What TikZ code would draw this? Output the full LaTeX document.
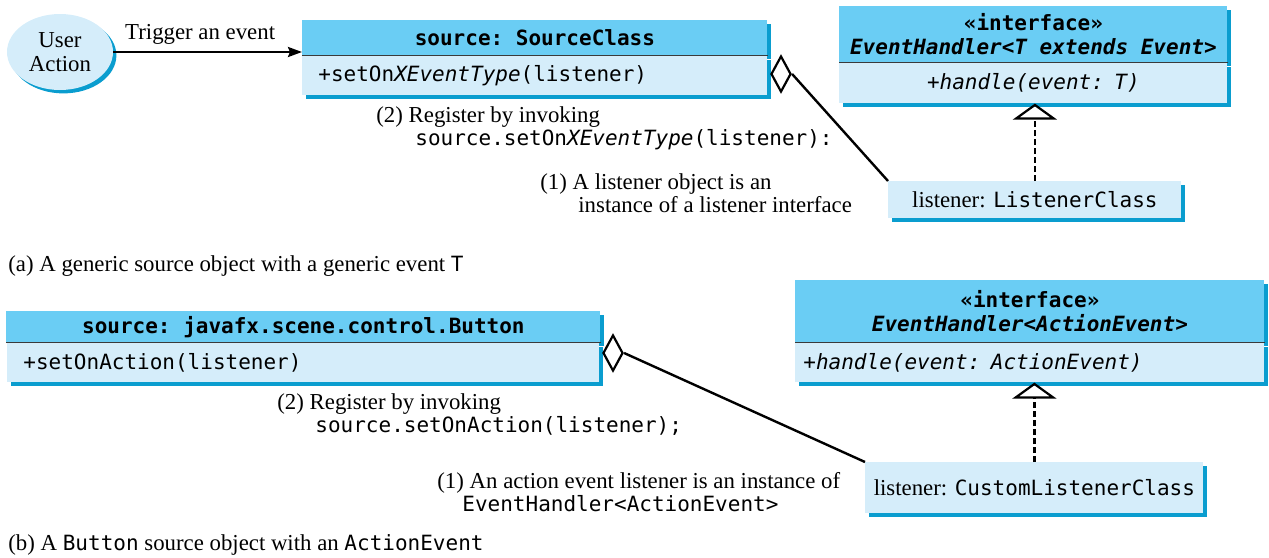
\documentclass[tikz,border=0pt]{standalone}
\usepackage{fontspec}
\setmainfont{Liberation Serif}
\setmonofont{DejaVu Sans Mono}
\usetikzlibrary{positioning, arrows.meta, shapes.geometric, shadows}
\definecolor{headblue}{HTML}{6ACDF4}
\definecolor{bodyblue}{HTML}{D5EDFA}
\definecolor{shadeblue}{HTML}{0A9DCF}
\definecolor{rulegray}{HTML}{3A3A3A}
\newcommand{\txtfont}{\fontsize{11.4}{11.5}\selectfont}
\newcommand{\cdfont}{\fontsize{10.5}{12}\selectfont\ttfamily}

\begin{document}
\begin{tikzpicture}[x=0.5pt, y=-0.5pt,
  boxshadow/.style={general shadow={fill=shadeblue, shadow xshift=1.7pt, shadow yshift=-1.7pt}},
  clshead/.style={fill=headblue, boxshadow, inner sep=0pt, minimum width=#1, align=center,
                  font=\cdfont\bfseries},
  clsbody/.style={fill=bodyblue, boxshadow, inner ysep=0pt, inner xsep=8pt, text width=#1,
                  font=\cdfont},
  lis/.style={fill=bodyblue, boxshadow, inner sep=0pt, font=\txtfont},
  agg/.style={draw, diamond, fill=white, line width=1.1pt, minimum width=10pt,
              minimum height=18pt, inner sep=0pt},
  divider/.style={rulegray, line width=0.6pt},
  arr/.style={-{Stealth[length=7pt, width=5pt, inset=1pt]}, line width=1.2pt},
  link/.style={line width=1.2pt},
  realize/.style={-{Triangle[open, length=8pt, width=22pt, line width=1.1pt]},
                  line width=1.2pt, dash pattern=on 3pt off 1.5pt},
  note/.style={anchor=base west, inner sep=0pt, font=\txtfont}]
  \useasboundingbox (0,0) rectangle (1269,557);

  % (a) generic source
  \node[ellipse, fill=bodyblue, boxshadow, minimum width=53pt, minimum height=38pt,
        inner sep=0pt, align=center, font=\fontsize{11.4}{12}\selectfont] (user) at (60,52) {User\\Action};
  \node[clshead=232.5pt, minimum height=17.5pt, anchor=north west] (srcAh) at (302,20)
    {source: SourceClass};
  \node[clsbody=216.5pt, minimum height=19.5pt, align=left, below=0pt of srcAh] (srcAb)
    {+setOn\textit{XEventType}(listener)};
  \draw[divider] (srcAh.south west) -- (srcAh.south east);
  \draw[arr] (user.east) -- node[above, pos=0.46, font=\txtfont] {Trigger an event} (user.east -| srcAh.west);

  \node[clshead=194pt, minimum height=28pt, anchor=north west] (ifAh) at (839,6)
    {«interface»\\\textit{EventHandler<T extends Event>}};
  \node[clsbody=178pt, minimum height=20pt, align=center, below=0pt of ifAh] (ifAb)
    {\textit{+handle(event: T)}};
  \draw[divider] (ifAh.south west) -- (ifAh.south east);

  \node[lis, minimum width=146.5pt, minimum height=18.5pt, anchor=north west] (lisA) at (888,181)
    {listener: \texttt{\fontsize{10.5}{12}\selectfont ListenerClass}};
  \node[agg] (aggA) at (781,74) {};
  \draw[link] (aggA.east) -- (lisA.north west);
  \draw[realize] (lisA.north) -- (lisA.north |- ifAb.south);

  \node[note] (regA) at (376,122) {(2) Register by invoking};
  \node[note, font=\cdfont] (callA) at (415,145) {source.setOn\textit{XEventType}(listener):};
  \node[note] (instA) at (540,189) {(1) A listener object is an};
  \node[note] (instA2) at (578,212) {instance of a listener interface};
  \node[note] (capA) at (8,271) {(a) A generic source object with a generic event \texttt{\fontsize{10.5}{12}\selectfont T}};

  % (b) Button source
  \node[clshead=297pt, minimum height=15.5pt, anchor=north west] (srcBh) at (6,311)
    {source: javafx.scene.control.Button};
  \node[clsbody=280pt, minimum height=19.5pt, align=left, below=0pt of srcBh] (srcBb)
    {+setOnAction(listener)};
  \draw[divider] (srcBh.south west) -- (srcBh.south east);

  \node[clshead=234.5pt, minimum height=31pt, anchor=north west] (ifBh) at (795,280)
    {«interface»\\\textit{EventHandler<ActionEvent>}};
  \node[clsbody=226.5pt, inner xsep=4pt, minimum height=19.5pt, align=left, below=0pt of ifBh] (ifBb)
    {\textit{+handle(event: ActionEvent)}};
  \draw[divider] (ifBh.south west) -- (ifBh.south east);

  \node[lis, minimum width=169pt, minimum height=25.5pt, anchor=north west] (lisB) at (865,462)
    {listener: \texttt{\fontsize{10.5}{12}\selectfont CustomListenerClass}};
  \node[agg] (aggB) at (613,353) {};
  \draw[link] (aggB.east) -- (lisB.north west);
  \draw[realize] (lisB.north) -- (lisB.north |- ifBb.south);

  \node[note] (regB) at (277,409) {(2) Register by invoking};
  \node[note, font=\cdfont] (callB) at (315,432) {source.setOnAction(listener);};
  \node[note] (instB) at (437,488) {(1) An action event listener is an instance of};
  \node[note, font=\cdfont] (instB2) at (462,511) {EventHandler<ActionEvent>};
  \node[note] (capB) at (8,550) {(b) A \texttt{\fontsize{10.5}{12}\selectfont Button} source object with an \texttt{\fontsize{10.5}{12}\selectfont ActionEvent}};
\end{tikzpicture}
\end{document}
